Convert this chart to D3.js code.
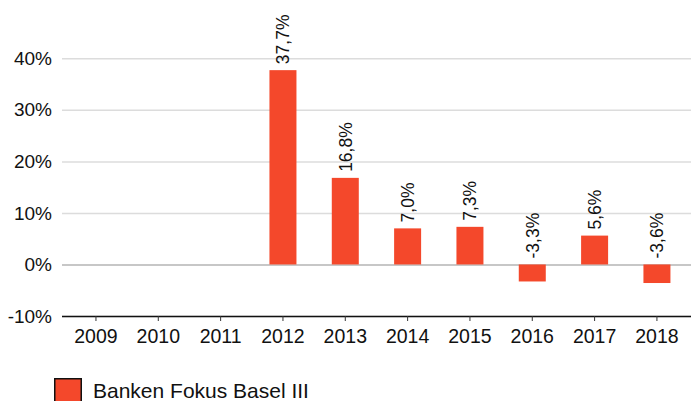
<!DOCTYPE html>
<html>
<head>
<meta charset="utf-8">
<script src="https://cdn.jsdelivr.net/npm/d3@7"></script>
<style>
  html, body { margin: 0; padding: 0; background: #fff; }
  svg { display: block; font-family: "Liberation Sans", Arial, sans-serif; }
</style>
</head>
<body>
<svg id="chart" width="691" height="401"></svg>
<script>
// Annual performance, Banken Fokus Basel III
const years = ["2009", "2010", "2011", "2012", "2013", "2014", "2015", "2016", "2017", "2018"];
const returns = [null, null, null, 37.7, 16.8, 7.0, 7.3, -3.3, 5.6, -3.6];
const yTicks = [-10, 0, 10, 20, 30, 40];
const seriesName = "Banken Fokus Basel III";

const barColor = "#f4482b";
const textColor = "#111";
const svg = d3.select("#chart");

const x = d3.scaleBand().domain(years).range([64.8, 688.1]).padding(0);
const y = d3.scaleLinear().domain([-10, 40]).range([316, 58.3]);
const barW = 27;

// German number style: decimal comma, plain hyphen as minus sign
const de = d3.formatLocale({ decimal: ",", thousands: ".", grouping: [3], currency: ["", "€"], minus: "-" });
const fmt = v => de.format(".1f")(v) + "%";

// horizontal gridlines + y tick labels
const yAxis = svg.append("g")
  .attr("transform", "translate(62,0)")
  .call(d3.axisLeft(y).tickValues(yTicks).tickSize(-629).tickPadding(10).tickFormat(d => d + "%"));
yAxis.select(".domain").remove();
yAxis.selectAll(".tick line")
  .attr("stroke", d => d === 0 ? "#b5b5b5" : "#dcdcdc")
  .attr("stroke-width", 1.5);
yAxis.selectAll(".tick text")
  .attr("font-size", 19).attr("fill", textColor)
  .attr("font-family", "Liberation Sans, Arial, sans-serif");

// bars
const data = years.map((yr, i) => ({ year: yr, value: returns[i] })).filter(d => d.value !== null);
svg.append("g").selectAll("rect").data(data).join("rect")
  .attr("x", d => x(d.year) + x.bandwidth() / 2 - barW / 2)
  .attr("width", barW)
  .attr("y", d => y(Math.max(0, d.value)))
  .attr("height", d => Math.abs(y(d.value) - y(0)))
  .attr("fill", barColor);

// value labels, rotated
svg.append("g").selectAll("text").data(data).join("text")
  .attr("transform", d => `translate(${x(d.year) + x.bandwidth() / 2},${Math.min(y(d.value), y(0)) - 6}) rotate(-90)`)
  .attr("dy", "0.36em")
  .attr("text-anchor", "start")
  .attr("font-size", 17.5)
  .attr("fill", textColor)
  .text(d => fmt(d.value));

// bottom axis at -10%
const xAxis = svg.append("g")
  .attr("transform", `translate(0,${y(-10)})`)
  .call(d3.axisBottom(x).tickSize(5).tickPadding(8).tickSizeOuter(0));
xAxis.select(".domain").attr("d", "M62,0.5H691").attr("stroke", "#111").attr("stroke-width", 1.5);
xAxis.selectAll(".tick line").attr("stroke", "#333");
xAxis.selectAll(".tick text")
  .attr("font-size", 19.5).attr("fill", textColor)
  .attr("font-family", "Liberation Sans, Arial, sans-serif");

// legend
const legend = svg.append("g").attr("transform", "translate(54,378)");
legend.append("rect").attr("x", 0.75).attr("y", 0.75).attr("width", 26.5).attr("height", 28)
  .attr("fill", barColor).attr("stroke", "#111").attr("stroke-width", 1.5);
legend.append("text").attr("x", 39).attr("y", 19.5)
  .attr("font-size", 21).attr("fill", textColor).text(seriesName);
</script>
</body>
</html>
